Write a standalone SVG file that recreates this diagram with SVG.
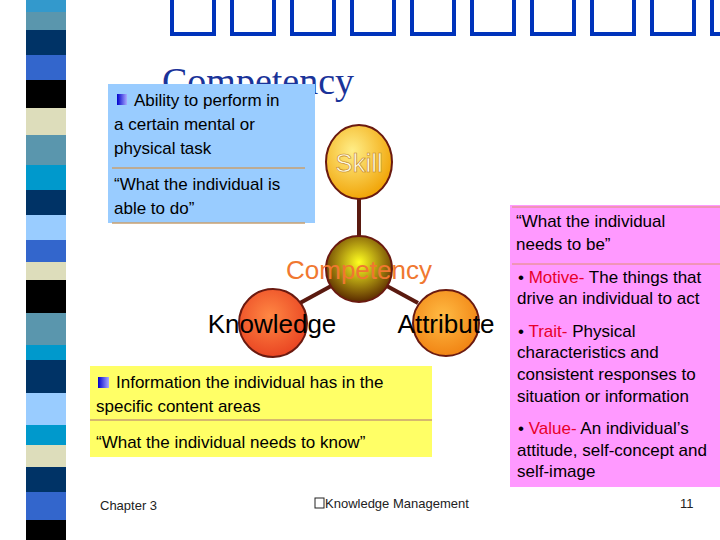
<svg xmlns="http://www.w3.org/2000/svg" width="720" height="540" viewBox="0 0 720 540">
<style>
.t{font-family:"Liberation Sans",Arial,sans-serif;font-size:17px;fill:#000}
.r{fill:#e8002a}
.lbl{font-family:"Liberation Sans",Arial,sans-serif;font-size:26px}
.tofu{fill:none;stroke:#0033bb;stroke-width:4}
.ln{stroke:#5a1a10;stroke-width:4}
</style>
<defs>
<radialGradient id="gs" cx="0.4" cy="0.35" r="0.7"><stop offset="0" stop-color="#ffee88"/><stop offset="1" stop-color="#f0a000"/></radialGradient>
<radialGradient id="gc" cx="0.5" cy="0.4" r="0.6"><stop offset="0" stop-color="#ffff20"/><stop offset="1" stop-color="#5a2a00"/></radialGradient>
<radialGradient id="gk" cx="0.45" cy="0.4" r="0.65"><stop offset="0" stop-color="#ff8844"/><stop offset="1" stop-color="#e84020"/></radialGradient>
<radialGradient id="ga" cx="0.45" cy="0.4" r="0.65"><stop offset="0" stop-color="#ffbb44"/><stop offset="1" stop-color="#f08010"/></radialGradient>
<linearGradient id="bul"><stop offset="0" stop-color="#0000cc"/><stop offset="1" stop-color="#aaaaff"/></linearGradient>
</defs>
<rect width="720" height="540" fill="#fff"/>
<g id="strip">
<rect x="26" y="0" width="40" height="12" fill="#3399cc"/>
<rect x="26" y="12" width="40" height="18" fill="#5a96ad"/>
<rect x="26" y="30" width="40" height="25" fill="#003366"/>
<rect x="26" y="55" width="40" height="25" fill="#3366cc"/>
<rect x="26" y="80" width="40" height="28" fill="#000"/>
<rect x="26" y="108" width="40" height="27" fill="#ddddbb"/>
<rect x="26" y="135" width="40" height="30" fill="#5a96ad"/>
<rect x="26" y="165" width="40" height="25" fill="#0099cc"/>
<rect x="26" y="190" width="40" height="25" fill="#003366"/>
<rect x="26" y="215" width="40" height="25" fill="#99ccff"/>
<rect x="26" y="240" width="40" height="22" fill="#3366cc"/>
<rect x="26" y="262" width="40" height="18" fill="#ddddbb"/>
<rect x="26" y="280" width="40" height="33" fill="#000"/>
<rect x="26" y="313" width="40" height="32" fill="#5a96ad"/>
<rect x="26" y="345" width="40" height="15" fill="#0099cc"/>
<rect x="26" y="360" width="40" height="33" fill="#003366"/>
<rect x="26" y="393" width="40" height="32" fill="#99ccff"/>
<rect x="26" y="425" width="40" height="20" fill="#0099cc"/>
<rect x="26" y="445" width="40" height="22" fill="#ddddbb"/>
<rect x="26" y="467" width="40" height="25" fill="#003366"/>
<rect x="26" y="492" width="40" height="28" fill="#3366cc"/>
<rect x="26" y="520" width="40" height="20" fill="#000"/>
</g>
<g id="title">
<rect class="tofu" x="172" y="-4" width="42" height="38"/>
<rect class="tofu" x="232" y="-4" width="42" height="38"/>
<rect class="tofu" x="292" y="-4" width="42" height="38"/>
<rect class="tofu" x="352" y="-4" width="42" height="38"/>
<rect class="tofu" x="412" y="-4" width="42" height="38"/>
<rect class="tofu" x="472" y="-4" width="42" height="38"/>
<rect class="tofu" x="532" y="-4" width="42" height="38"/>
<rect class="tofu" x="592" y="-4" width="42" height="38"/>
<rect class="tofu" x="652" y="-4" width="42" height="38"/>
<rect class="tofu" x="712" y="-4" width="42" height="38"/>
<text x="162" y="94" font-family="Liberation Serif,serif" font-size="38" fill="#1a3399">Competency</text>
</g>
<g id="skillbox">
<rect x="108" y="84" width="207" height="139" fill="#99ccff"/>
<line x1="112" y1="168" x2="305" y2="168" stroke="#c8a070" stroke-width="1.5"/>
<line x1="112" y1="223" x2="305" y2="223" stroke="#c8a070" stroke-width="1.5"/>
<rect x="117" y="94" width="10" height="11" fill="url(#bul)"/>
<text class="t" x="134" y="106">Ability to perform in</text>
<text class="t" x="114" y="130">a certain mental or</text>
<text class="t" x="114" y="154">physical task</text>
<text class="t" x="114" y="190">“What the individual is</text>
<text class="t" x="114" y="214">able to do”</text>
</g>
<g id="connectors">
<line class="ln" x1="359" y1="198" x2="359" y2="240"/>
<line class="ln" x1="333" y1="285" x2="300" y2="303"/>
<line class="ln" x1="385" y1="285" x2="418" y2="303"/>
</g>
<g id="skill">
<ellipse cx="359" cy="162" rx="33" ry="37" fill="url(#gs)" stroke="#6a1a10" stroke-width="2"/>
<text class="lbl" x="359" y="172" text-anchor="middle" fill="#fffbe0" stroke="#c08020" stroke-width="0.6">Skill</text>
</g>
<g id="competency">
<circle cx="359" cy="269" r="33" fill="url(#gc)" stroke="#6a1a10" stroke-width="2"/>
</g>
<g id="knowledge">
<circle cx="273" cy="323" r="34" fill="url(#gk)" stroke="#6a1a10" stroke-width="2"/>
<text class="lbl" x="272" y="333" text-anchor="middle" fill="#000">Knowledge</text>
</g>
<g id="attribute">
<circle cx="446" cy="323" r="33" fill="url(#ga)" stroke="#6a1a10" stroke-width="2"/>
<text class="lbl" x="446" y="333" text-anchor="middle" fill="#000">Attribute</text>
</g>
<text class="lbl" x="359" y="279" text-anchor="middle" fill="#f07830">Competency</text>
<g id="knowbox">
<rect x="90" y="366" width="342" height="91" fill="#ffff66"/>
<line x1="90" y1="420" x2="432" y2="420" stroke="#c8a070" stroke-width="1.5"/>
<rect x="98" y="377" width="11" height="11" fill="url(#bul)"/>
<text class="t" x="116" y="388">Information the individual has in the</text>
<text class="t" x="96" y="412">specific content areas</text>
<text class="t" x="96" y="448">“What the individual needs to know”</text>
</g>
<g id="attrbox">
<rect x="510" y="205" width="210" height="282" fill="#ff99ff"/>
<line x1="512" y1="207" x2="720" y2="207" stroke="#e09070" stroke-width="1"/>
<line x1="512" y1="264" x2="720" y2="264" stroke="#e09070" stroke-width="1"/>
<text class="t" x="516" y="227">“What the individual</text>
<text class="t" x="516" y="250">needs to be”</text>
<text class="t" font-size="15" x="518" y="283">• <tspan class="r">Motive-</tspan> The things that</text>
<text class="t" font-size="15" x="517" y="304">drive an individual to act</text>
<text class="t" font-size="15" x="518" y="337">• <tspan class="r">Trait-</tspan> Physical</text>
<text class="t" font-size="15" x="517" y="358">characteristics and</text>
<text class="t" font-size="15" x="517" y="380">consistent responses to</text>
<text class="t" font-size="15" x="517" y="402">situation or information</text>
<text class="t" font-size="15" x="518" y="434">• <tspan class="r">Value-</tspan> An individual’s</text>
<text class="t" font-size="15" x="517" y="456">attitude, self-concept and</text>
<text class="t" font-size="15" x="517" y="477">self-image</text>
</g>
<g id="footer" font-family="Liberation Sans,Arial,sans-serif" font-size="13" fill="#222">
<text x="100" y="510">Chapter 3</text>
<rect x="315" y="498" width="9" height="10" fill="none" stroke="#222"/>
<text x="325" y="508">Knowledge Management</text>
<text x="680" y="508">11</text>
</g>
</svg>
